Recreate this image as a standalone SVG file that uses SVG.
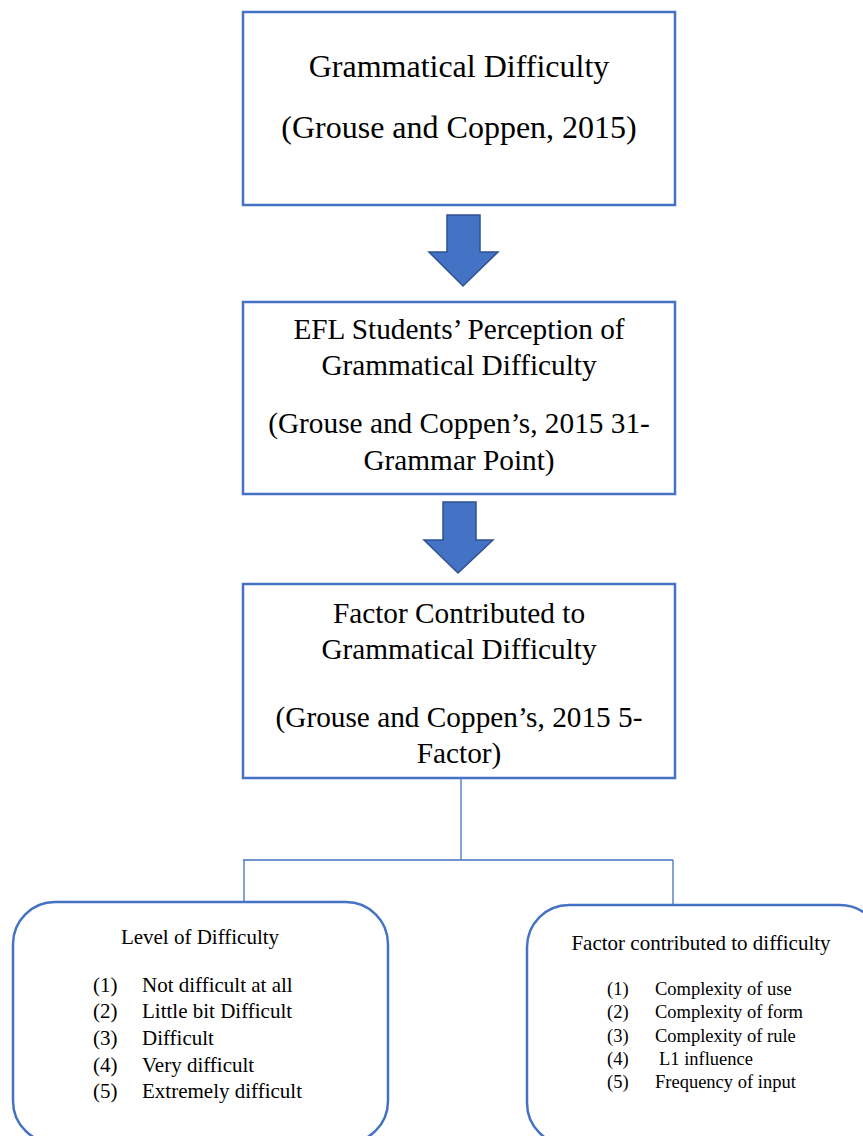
<svg xmlns="http://www.w3.org/2000/svg" width="863" height="1136" viewBox="0 0 863 1136">
<style>
.box{fill:#fff;stroke:#4472C4;stroke-width:2.5}
.rbox{fill:#fff;stroke:#4472C4;stroke-width:2.5}
.arrow{fill:#4472C4;stroke:#2F528F;stroke-width:1.5}
.conn{fill:none;stroke:#4472C4;stroke-width:1.3}
text{font-family:"Liberation Serif","Times New Roman",serif;fill:#000}
.big{font-size:32px;text-anchor:middle}
.big2{font-size:29.3px;text-anchor:middle}
.mid{font-size:21px}
.sm{font-size:18.5px}
</style>
<rect width="863" height="1136" fill="#fff"/>
<g id="connectors">
<polygon class="arrow" points="447,215 480,215 480,252 498,252 463,286 429,252 447,252"/>
<polygon class="arrow" points="443,502 476,502 476,540 493,540 458,573 424,540 443,540"/>
<path class="conn" d="M461,778 V860 M243,860 H673 M244,860 V902 M673,860 V905"/>
</g>
<g id="node1">
<rect class="box" x="243" y="12" width="432" height="193"/>
<text class="big" x="459" y="77">Grammatical Difficulty</text>
<text class="big" x="459" y="138">(Grouse and Coppen, 2015)</text>
</g>
<g id="node2">
<rect class="box" x="243" y="302" width="432" height="192"/>
<text class="big2" x="459" y="339">EFL Students’ Perception of</text>
<text class="big2" x="459" y="375">Grammatical Difficulty</text>
<text class="big2" x="459" y="433">(Grouse and Coppen’s, 2015 31-</text>
<text class="big2" x="459" y="470">Grammar Point)</text>
</g>
<g id="node3">
<rect class="box" x="243" y="584" width="432" height="194"/>
<text class="big2" x="459" y="623">Factor Contributed to</text>
<text class="big2" x="459" y="659">Grammatical Difficulty</text>
<text class="big2" x="459" y="727">(Grouse and Coppen’s, 2015 5-</text>
<text class="big2" x="459" y="763">Factor)</text>
</g>
<g id="node4">
<rect class="rbox" x="13" y="902" width="375" height="241" rx="42" ry="42"/>
<text class="mid" x="200" y="944" text-anchor="middle">Level of Difficulty</text>
<text class="mid" x="93" y="992">(1)</text><text class="mid" x="142" y="992">Not difficult at all</text>
<text class="mid" x="93" y="1018">(2)</text><text class="mid" x="142" y="1018">Little bit Difficult</text>
<text class="mid" x="93" y="1045">(3)</text><text class="mid" x="142" y="1045">Difficult</text>
<text class="mid" x="93" y="1072">(4)</text><text class="mid" x="142" y="1072">Very difficult</text>
<text class="mid" x="93" y="1098">(5)</text><text class="mid" x="142" y="1098">Extremely difficult</text>
</g>
<g id="node5">
<rect class="rbox" x="527" y="905" width="355" height="240" rx="42" ry="42"/>
<text class="mid" x="701" y="950" text-anchor="middle">Factor contributed to difficulty</text>
<text class="sm" x="607" y="995">(1)</text><text class="sm" x="655" y="995">Complexity of use</text>
<text class="sm" x="607" y="1018">(2)</text><text class="sm" x="655" y="1018">Complexity of form</text>
<text class="sm" x="607" y="1042">(3)</text><text class="sm" x="655" y="1042">Complexity of rule</text>
<text class="sm" x="607" y="1065">(4)</text><text class="sm" x="659" y="1065">L1 influence</text>
<text class="sm" x="607" y="1088">(5)</text><text class="sm" x="655" y="1088">Frequency of input</text>
</g>
</svg>
